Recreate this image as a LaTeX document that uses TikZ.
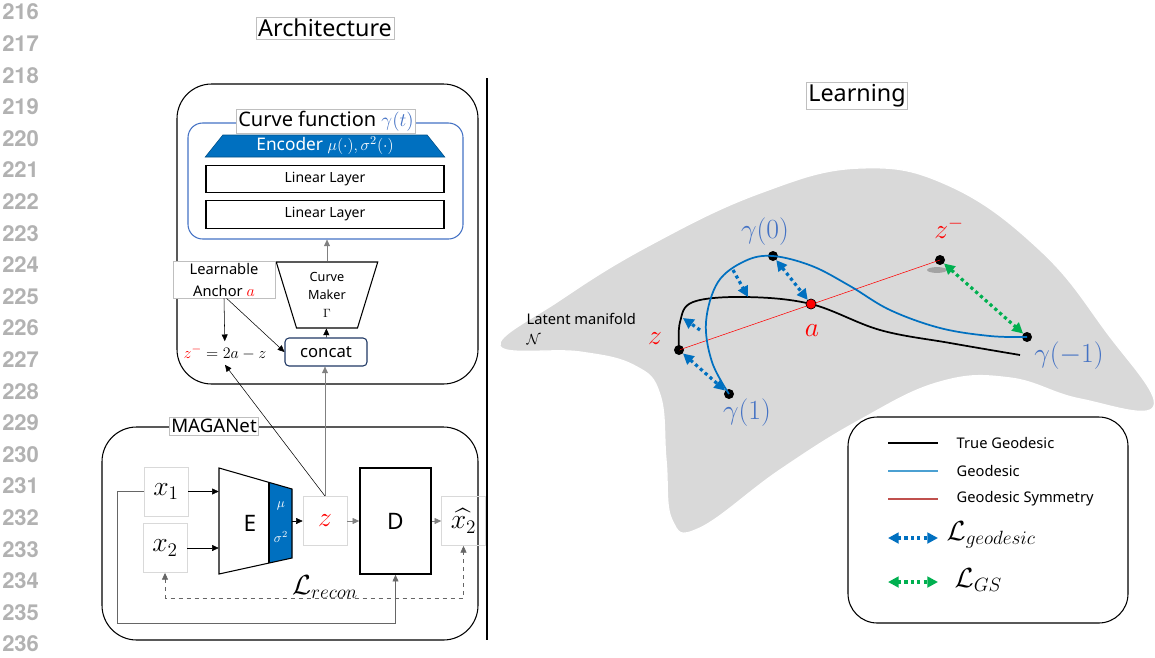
\documentclass[tikz,border=0pt]{standalone}
\usepackage[no-math]{fontspec}
\setmainfont{Noto Sans}
\newfontfamily\numfont{TeX Gyre Heros}
\usepackage{amsmath}
\usepackage{tikz}
\usetikzlibrary{arrows.meta,shapes.geometric,positioning}
\definecolor{encblue}{RGB}{0,112,192}
\definecolor{txtblue}{RGB}{68,114,196}
\definecolor{lightgeo}{RGB}{75,160,210}
\definecolor{symred}{RGB}{192,80,77}
\definecolor{gsgreen}{RGB}{0,176,80}
\definecolor{navy}{RGB}{31,56,100}
\definecolor{manifold}{RGB}{217,217,217}
\definecolor{lblgray}{RGB}{191,191,191}
\definecolor{numgray}{RGB}{178,178,178}
\tikzset{
  lbl/.style      = {draw=lblgray, fill=white, inner sep=1.5pt},
  title/.style    = {lbl, font=\fontsize{17.5}{20}\selectfont},
  inbox/.style    = {draw=lblgray!60, minimum width=33pt, minimum height=37pt,
                     inner sep=1pt, font=\fontsize{20}{22}\selectfont},
  layer/.style    = {draw, thick, minimum width=178.5pt, minimum height=20.5pt,
                     font=\fontsize{10.5}{12}\selectfont},
  group/.style    = {thick, rounded corners=26pt},
  arr/.style      = {-{Triangle[length=5pt,width=4.5pt]}},
  lossdot/.style  = {line width=2.4pt, dash pattern=on 2.4pt off 2.4pt},
  bothtips/.style = {{Triangle[length=8pt,width=8pt]}-{Triangle[length=8pt,width=8pt]}},
  tipend/.style   = {-{Triangle[length=8pt,width=8pt]}},
  pt/.style       = {circle, fill=black, inner sep=0pt, minimum size=7.5pt},
  curvelbl/.style = {text=txtblue, font=\fontsize{20}{22}\selectfont},
  redlbl/.style   = {text=red, font=\fontsize{21}{22}\selectfont},
  legtext/.style  = {anchor=west, font=\fontsize{11}{13}\selectfont}
}

\begin{document}
\begin{tikzpicture}[x=0.75pt, y=-0.75pt]
 \useasboundingbox (0,0) rectangle (1155,657);

 \foreach \n [count=\i from 0] in {216,...,236}
  \node[anchor=west, inner sep=0pt, text=numgray,
   font=\numfont\bfseries\fontsize{16.5}{17}\selectfont]
   (ln\n) at (2,12+31.6*\i) {\n};

 \node[title] (arch) at (325,28) {Architecture};
 \node[title] (learn) at (857,96) {Learning};
 \draw[line width=2.2pt] (487,78) -- (487,640);

 % curve function
 \draw[group] (177,84) rectangle (478,384);
 \node[draw=txtblue, thick, rounded corners=11pt, minimum width=206.25pt,
  minimum height=87pt] (curvefn) at (325.5,181) {};
 \node[lbl, font=\fontsize{15}{18}\selectfont] (fnlbl) at (326,121)
  {Curve function \textcolor{txtblue}{$\gamma(t)$}};
 \node[trapezium, trapezium stretches=true, trapezium angle=56, fill=encblue,
  draw=encblue!70!black, minimum width=180pt, minimum height=16.5pt, inner sep=0pt,
  text=white, font=\fontsize{13}{14}\selectfont] (enc) at (325,146)
  {Encoder $\mu(\cdot),\sigma^2(\cdot)$};
 \node[layer] (lin1) at (325,179) {Linear Layer};
 \node[layer] (lin2) at (325,214.5) {Linear Layer};
 \node[trapezium, trapezium stretches=true, shape border rotate=180, trapezium angle=74,
  draw, thick, minimum width=76.5pt, minimum height=49.5pt, align=center,
  font=\fontsize{9.5}{13.5}\selectfont] (maker) at (327,295) {Curve\\Maker\\$\Gamma$};
 \node[lbl, align=center, minimum width=76.5pt, minimum height=26pt,
  font=\fontsize{11}{16.5}\selectfont] (anchor) at (224,279.5)
  {Learnable\\Anchor \textcolor{red}{\large$a$}};
 \node[draw=navy, thick, rounded corners=3pt, minimum width=61.5pt, minimum height=21pt,
  font=\fontsize{12.5}{14}\selectfont] (concat) at (326,352) {concat};
 \node[font=\fontsize{12.5}{14}\selectfont] (zneg) at (225,353) {$\textcolor{red}{z^-}=2a-z$};

 % MAGANet
 \draw[group] (102,427) rectangle (478,640);
 \node[lbl, font=\fontsize{14}{16}\selectfont] (maganet) at (214,426) {MAGANet};
 \node[inbox] (x1) at (166,491.5) {$x_1$};
 \node[inbox] (x2) at (165,548) {$x_2$};
 \node[inbox] (z) at (325,521) {\textcolor{red}{$z$}};
 \node[inbox] (xhat) at (463.5,521) {$\widehat{x_2}$};
 \node[inner sep=0pt, minimum width=54.75pt, minimum height=79.5pt] (E) at (255.5,521) {};
 \fill[encblue] (269,482.4) -- (292,489) -- (292,558) -- (269,563) -- cycle;
 \draw[thick] (219,468) -- (292,489) -- (292,558) -- (219,574) -- cycle;
 \draw[thick] (269,482.4) -- (269,563);
 \node[font=\fontsize{17}{20}\selectfont] (elbl) at (250,523) {E};
 \node[text=white, font=\fontsize{10}{10}\selectfont] (mu) at (281,506) {$\mu$};
 \node[text=white, font=\fontsize{10}{10}\selectfont] (sig) at (281,537) {$\sigma^2$};
 \node[draw, line width=1.2pt, minimum width=53.25pt, minimum height=79.5pt,
  font=\fontsize{17}{20}\selectfont] (D) at (395.5,521) {D};
 \node[font=\fontsize{20}{22}\selectfont] (lrecon) at (325,587) {$\mathcal{L}_{recon}$};

 \draw[arr, gray] (maker.north) -- (maker.north |- curvefn.south);
 \draw[arr] (concat) -- (maker);
 \draw[arr] (anchor.south) -- (zneg);
 \draw[arr, thin] ([xshift=2pt]anchor.south) -- (concat.west);
 \draw[arr, gray] (z.north) -- (z.north |- concat.south);
 \draw[arr, thin] (z.north) -- (zneg.south);
 \draw[arr] (x1) -- (x1 -| E.west);
 \draw[arr] (x2) -- (x2 -| E.west);
 \draw[arr] (E.east) -- (z);
 \draw[arr, gray] (z) -- (D);
 \draw[arr, gray] (D) -- (xhat);
 \draw[dashed, gray!80!black, {Triangle[length=5pt,width=4.5pt]}-{Triangle[length=5pt,width=4.5pt]}]
  (x2.south) -- ++(0,25) -| (xhat.south);
 \draw[arr, gray!80!black] (x1.west) -- ++(-26,0) -- ++(0,131.5) -| (D.south);

 % manifold
 \filldraw[fill=manifold, draw=white, line width=1pt] plot[smooth cycle, tension=0.7]
  coordinates {(500,346) (560,300) (650,245) (760,193) (860,168) (950,186) (1040,250)
  (1105,330) (1154,406) (1080,399) (1010,378) (940,382) (860,420) (780,470) (700,528)
  (672,520) (666,460) (660,395) (635,366) (580,352)};
 \node[anchor=west, align=left, font=\fontsize{11}{15}\selectfont] (mlbl) at (522,329)
  {Latent manifold\\$\mathcal{N}$};

 \node[pt] (pz) at (679,350) {};
 \node[pt, fill=red, draw=black, thin] (pa) at (811,304) {};
 \node[pt] (g0) at (773,256) {};
 \node[pt] (g1) at (729,394) {};
 \node[pt] (zm) at (940,260) {};
 \node[pt] (gm1) at (1027,337) {};
 \fill[gray, opacity=.6] (937,270) ellipse (7.5pt and 2.2pt);

 \draw[red, thin] (pz.center) -- (zm.center);
 \draw[line width=1.3pt] plot[smooth, tension=.6] coordinates {(679,350) (680,322)
  (693,302) (745,297) (811,304) (880,330) (950,343) (1020,355)};
 \draw[encblue, line width=1.3pt] plot[smooth, tension=.6] coordinates {(729,394)
  (712,362) (706,322) (718,282) (745,261) (773,256) (812,266) (850,286) (890,310)
  (940,328) (990,336) (1027,337)};
 \node[pt, fill=red, draw=black, thin] at (pa) {};

 \coordinate (b1) at (733,270);
 \coordinate (k1) at (748,297);
 \coordinate (b2) at (700,330);
 \coordinate (k2) at (683,318);
 \draw[lossdot, encblue, tipend] (b1) -- (k1);
 \draw[lossdot, encblue, bothtips] (g0) -- (pa);
 \draw[lossdot, encblue, tipend] (b2) -- (k2);
 \draw[lossdot, encblue, bothtips] (pz) -- (g1);
 \draw[lossdot, gsgreen, bothtips] (zm) -- (gm1);

 \node[curvelbl] (lg0) at (765,232) {$\gamma(0)$};
 \node[curvelbl] (lg1) at (747,413) {$\gamma(1)$};
 \node[curvelbl] (lgm1) at (1069,356) {$\gamma(-1)$};
 \node[redlbl] (lz) at (655,339) {$z$};
 \node[redlbl] (la) at (812,331) {$a$};
 \node[redlbl] (lzm) at (949,228) {$z^-$};

 % legend
 \draw[thick, rounded corners=22pt, fill=white] (848,417) rectangle (1128,623);
 \foreach \y/\c/\t in {443/black/True Geodesic, 471/lightgeo/Geodesic,
  499/symred/Geodesic Symmetry} {
  \draw[\c, line width=0.9pt] (888,\y) -- (938,\y);
  \node[legtext] (leg\y) at (952,\y) {\t};
 }
 \coordinate (la1) at (888,538);
 \coordinate (la2) at (938,538);
 \coordinate (lg1a) at (888,582);
 \coordinate (lg2a) at (938,582);
 \draw[lossdot, encblue, bothtips] (la1) -- (la2);
 \draw[lossdot, gsgreen, bothtips] (lg1a) -- (lg2a);
 \node[anchor=west, font=\fontsize{21}{22}\selectfont] (lgeo) at (942,535) {$\mathcal{L}_{geodesic}$};
 \node[anchor=west, font=\fontsize{21}{22}\selectfont] (lgs) at (950,580) {$\mathcal{L}_{GS}$};
\end{tikzpicture}
\end{document}
